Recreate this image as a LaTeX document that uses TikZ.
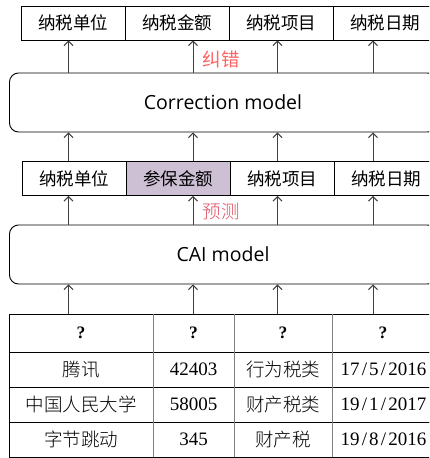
\documentclass[tikz,border=0pt]{standalone}
\usepackage{fontspec}
\usetikzlibrary{arrows.meta}
\setmainfont{Liberation Serif}
\newfontfamily\cjksans{Noto Sans CJK SC}
\newfontfamily\opensans{Open Sans}
\newfontfamily\song{Noto Sans CJK SC Light}
\definecolor{lilac}{HTML}{CDBFD4}
\definecolor{redA}{HTML}{FF6464}
\definecolor{redB}{HTML}{DC5064}
\newcommand\dsl{\kern2.2pt/\kern2.2pt}
\tikzset{
  cell/.style={draw=black, line width=0.9pt, inner sep=0pt, minimum width=104pt, minimum height=34pt,
    font=\cjksans\fontsize{17.5}{20}\selectfont},
  model/.style={draw=black, line width=0.9pt, rounded corners=9pt, inner sep=0pt,
    minimum width=427pt, minimum height=59pt, font=\opensans\fontsize{19.5}{22}\selectfont},
  arr/.style={draw=black!75, line width=1pt, -{Straight Barb[length=4.5pt,width=9pt]}},
  tcell/.style={draw=black, line width=0.9pt, inner sep=0pt, font=\song\fontsize{18.5}{22}\selectfont},
  num/.style={font=\rmfamily\fontsize{19}{22}\selectfont},
  qm/.style={font=\rmfamily\bfseries\fontsize{17.5}{20}\selectfont},
  lab/.style={inner sep=0pt, font=\fontsize{18.5}{20}\selectfont},
  vsep/.style={draw=black!50, line width=1.8pt}
}
\begin{document}
\begin{tikzpicture}[x=1pt,y=-1pt]
\useasboundingbox (0,0) rectangle (429,458);
\clip (0,0) rectangle (429,458);
\fill[white] (0,0) rectangle (429,458);
% arrow x positions
\coordinate (ca) at (68.5,0);
\coordinate (cb) at (193,0);
\coordinate (cc) at (277.5,0);
\coordinate (cd) at (373,0);
% top row
\node[cell] (r1a) at (73,23) {纳税单位};
\node[cell] (r1b) at (177,23) {纳税金额};
\node[cell] (r1c) at (281,23) {纳税项目};
\node[cell] (r1d) at (385,23) {纳税日期};
% correction model
\node[model] (corr) at (223,102.5) {Correction model};
\node[lab, text=redA, font=\cjksans\fontsize{18.5}{20}\selectfont] (jc) at (221,59) {纠错};
% second row
\node[cell, fill=lilac] (r2b) at (178,178.5) {参保金额};
\node[cell] (r2a) at (74,178.5) {纳税单位};
\node[cell] (r2c) at (282,178.5) {纳税项目};
\node[cell] (r2d) at (386,178.5) {纳税日期};
\node[lab, text=redB, font=\song\fontsize{18.5}{20}\selectfont] (yc) at (221,212) {预测};
% CAI model
\node[model] (cai) at (223,254.5) {CAI model};
% table
\node[tcell, minimum width=144pt, minimum height=38pt] (t1a) at (81,333) {};
\node[tcell, minimum width=81pt, minimum height=38pt] (t1b) at (193.5,333) {};
\node[tcell, minimum width=98pt, minimum height=38pt] (t1c) at (283,333) {};
\node[tcell, minimum width=102pt, minimum height=38pt] (t1d) at (383,333) {};
\node[qm] (q1) at (t1a) {?};
\node[qm] (q2) at (t1b) {?};
\node[qm] (q3) at (t1c) {?};
\node[qm] (q4) at (t1d) {?};
\node[tcell, minimum width=144pt, minimum height=35pt] (t2a) at (81,369.5) {腾讯};
\node[tcell, num, minimum width=81pt, minimum height=35pt] (t2b) at (193.5,369.5) {42403};
\node[tcell, minimum width=98pt, minimum height=35pt] (t2c) at (283,369.5) {行为税类};
\node[tcell, num, minimum width=102pt, minimum height=35pt] (t2d) at (383.5,369.5) {17\dsl5\dsl2016};
\node[tcell, minimum width=144pt, minimum height=35pt] (t3a) at (81,404.5) {中国人民大学};
\node[tcell, num, minimum width=81pt, minimum height=35pt] (t3b) at (193.5,404.5) {58005};
\node[tcell, minimum width=98pt, minimum height=35pt] (t3c) at (283,404.5) {财产税类};
\node[tcell, num, minimum width=102pt, minimum height=35pt] (t3d) at (383.5,404.5) {19\dsl1\dsl2017};
\node[tcell, minimum width=144pt, minimum height=35pt] (t4a) at (81,439.5) {字节跳动};
\node[tcell, num, minimum width=81pt, minimum height=35pt] (t4b) at (193.5,439.5) {345};
\node[tcell, minimum width=98pt, minimum height=35pt] (t4c) at (283,439.5) {财产税};
\node[tcell, num, minimum width=102pt, minimum height=35pt] (t4d) at (383.5,439.5) {19\dsl8\dsl2016};
% gray inner vertical separators
\draw[vsep] (t1a.north east) -- (t4a.south east);
\draw[vsep] (t1b.north east) -- (t4b.south east);
\draw[vsep] (t1c.north east) -- (t4c.south east);
% arrows
\foreach \c/\lo/\hi in {ca/corr/r1a, cb/corr/r1b, cc/corr/r1c, cd/corr/r1d,
                       ca/r2a/corr, cb/r2b/corr, cc/r2c/corr, cd/r2d/corr,
                       ca/cai/r2a, cb/cai/r2b, cc/cai/r2c, cd/cai/r2d,
                       ca/t1a/cai, cb/t1b/cai, cc/t1c/cai, cd/t1d/cai}
  \draw[arr] (\lo.north -| \c) -- (\hi.south -| \c);
\end{tikzpicture}
\end{document}
